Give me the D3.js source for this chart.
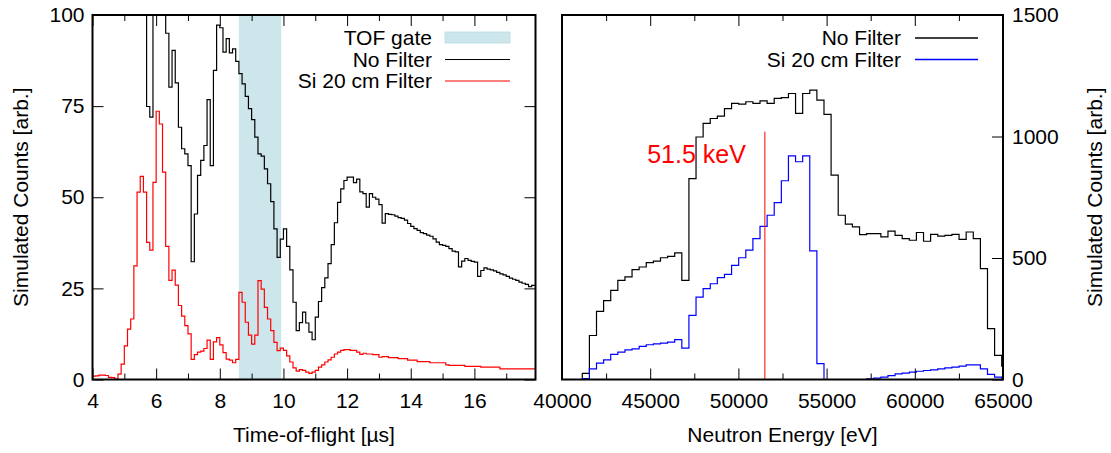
<!DOCTYPE html>
<html><head><meta charset="utf-8">
<script src="https://cdn.jsdelivr.net/npm/d3@7"></script>
<style>
body{margin:0;background:#fff}
text{font-family:"Liberation Sans",Arial,Helvetica,sans-serif;fill:#000}
</style></head><body>
<svg id="c" width="1111" height="453"></svg>
<script>
// ---------- data: left panel (time of flight) ----------
const tofBinWidth = 0.1;
const tofRedStart = 4.0;
const tofRedCounts = [
 0.9,1.0,1.2,1.2,1.1,0.6,0.5,0.1,1.5,4.2,
 9.2,13.8,16.6,31.2,51.4,55.7,51.4,37.6,35.5,54.1,
 73.6,70.1,56.9,36.5,27.2,30.0,25.9,20.3,17.4,14.8,
 12.5,5.5,6.8,7.5,7.8,8.5,10.8,5.5,10.3,11.5,
 9.5,7.4,5.6,5.3,4.6,5.5,23.9,21.2,15.7,12.2,
 9.7,12.2,27.1,24.8,19.8,16.6,13.4,10.2,7.9,8.6,
 8.0,6.5,4.8,3.2,2.3,2.7,2.5,2.0,1.7,2.0,
 2.5,3.4,4.0,4.8,5.4,6.1,7.0,7.5,8.0,8.2,
 8.2,8.0,8.0,7.5,6.9,7.2,7.0,7.0,6.8,6.8,
 6.1,6.3,6.3,6.0,6.0,6.0,5.7,5.7,5.7,5.3,
 5.3,5.3,4.9,4.9,4.9,4.9,4.6,4.6,4.6,4.6,
 4.6,4.0,3.9,3.9,3.9,3.9,3.9,3.6,3.6,3.6,
 3.6,3.6,3.4,3.4,3.4,3.4,3.4,3.4,2.9,2.9,
 2.9,2.9,2.9,2.9,2.9,2.9,2.9,2.9,2.9
];
const tofBlackStart = 5.6;
const tofBlackCounts = [
 130,74.9,72.0,130,150,140,115,95,80.2,90.3,
 81.4,69.2,63.3,61.9,58.7,32.3,45.4,56.0,60.1,64.2,
 76.8,58.7,84.8,97.2,96.5,89.8,93.5,89.6,90.7,87.3,
 83.9,81.1,77.7,74.3,71.3,66.5,61.9,61.3,57.8,53.7,
 48.8,41.3,33.5,38.5,41.3,36.5,30.1,21.2,13.4,15.6,
 18.5,15.5,13.0,10.9,17.1,21.4,25.2,27.9,31.8,37.0,
 43.0,48.6,52.3,54.6,55.5,55.5,54.0,55.0,51.5,51.0,
 47.3,51.0,50.0,49.5,48.0,42.9,45.5,45.3,45.2,44.8,
 44.4,44.2,43.7,42.8,42.0,41.4,40.9,40.3,40.0,39.6,
 39.3,38.6,37.7,37.0,36.8,36.5,35.9,35.2,35.0,30.9,
 32.5,33.2,32.7,32.4,32.2,28.3,29.9,30.6,30.3,30.1,
 29.8,29.4,29.0,28.7,28.3,27.8,27.5,27.2,26.7,26.4,
 26.1,25.5,25.8
];
const tofGate = [8.6, 9.93];
const tofDomain = [4, 17.92];
const tofTicksMajor = [4,6,8,10,12,14,16];
const tofTicksMinor = [5,7,9,11,13,15,17];
const countTicksLeft = [0,25,50,75,100];
const leftLegend = ["TOF gate","No Filter","Si 20 cm Filter"];

// ---------- data: right panel (neutron energy) ----------
const energyBinStart = 41150;
const energyBinWidth = 403;
const energyBlackCounts = [
 25,181,280,325,367,408,422,452,463,481,
 487,501,507,521,408,827,998,1054,1074,1084,
 1115,1136,1133,1143,1136,1147,1136,1157,1160,1177,
 1095,1177,1191,1150,1091,841,676,639,628,596,
 600,600,587,611,593,580,573,605,569,597,
 590,593,597,577,607,580,456,209,99,55
];
const energyBlueCounts = [
 4,44,67,81,103,113,122,126,136,143,
 147,150,154,164,129,264,339,374,394,419,
 433,470,501,532,580,630,676,728,818,920,
 896,920,529,65,0,0,0,0,0,0,
 3,6,10,16,23,26,30,34,37,40,
 44,48,51,55,60,60,44,21,10,6
];
const energyDomain = [40000, 65000];
const energyTicksMajor = [40000,45000,50000,55000,60000,65000];
const energyTicksMinor = [42500,47500,52500,57500,62500];
const countTicksRight = [0,500,1000,1500];
const markerEnergy = 51500;
const markerTop = 1020;
const markerLabel = "51.5 keV";
const rightLegend = ["No Filter","Si 20 cm Filter"];

// ---------- drawing ----------
const svg = d3.select("#c");
const pTop = 15, pBottom = 379.5;
const L = {x0: 92.5, x1: 535.5};
const R = {x0: 562, x1: 1003};
const FS = 21;

const xL = d3.scaleLinear().domain(tofDomain).range([L.x0, L.x1]);
const yL = d3.scaleLinear().domain([0,100]).range([pBottom, pTop]);
const xR = d3.scaleLinear().domain(energyDomain).range([R.x0, R.x1]);
const yR = d3.scaleLinear().domain([0,1500]).range([pBottom, pTop]);

const defs = svg.append("defs");
defs.append("clipPath").attr("id","clipL").append("rect")
  .attr("x",L.x0).attr("y",pTop).attr("width",L.x1-L.x0).attr("height",pBottom-pTop);
defs.append("clipPath").attr("id","clipR").append("rect")
  .attr("x",R.x0).attr("y",pTop).attr("width",R.x1-R.x0).attr("height",pBottom-pTop);

function stepPoints(start, width, counts, lead){
  const pts = [];
  if (lead) pts.push([start, 0]);
  counts.forEach((v,i)=>pts.push([start + i*width, v]));
  pts.push([start + counts.length*width, counts[counts.length-1]]);
  return pts;
}
function stepPath(x, y, pts){
  return d3.line().x(d=>x(d[0])).y(d=>y(d[1])).curve(d3.curveStepAfter)(pts);
}

// ----- left panel -----
const gL = svg.append("g");
const plotL = gL.append("g").attr("clip-path","url(#clipL)");
plotL.append("rect")
  .attr("x", xL(tofGate[0])).attr("y", pTop)
  .attr("width", xL(tofGate[1]) - xL(tofGate[0])).attr("height", pBottom-pTop)
  .attr("fill","#cde6ec");
plotL.append("path")
  .attr("d", stepPath(xL, yL, stepPoints(tofBlackStart, tofBinWidth, tofBlackCounts, false)))
  .attr("fill","none").attr("stroke","#000").attr("stroke-width",1.2);
plotL.append("path")
  .attr("d", stepPath(xL, yL, stepPoints(tofRedStart, tofBinWidth, tofRedCounts, false)))
  .attr("fill","none").attr("stroke","#ff0000").attr("stroke-width",1.2);

// ----- right panel -----
const gR = svg.append("g");
const plotR = gR.append("g").attr("clip-path","url(#clipR)");
plotR.append("path")
  .attr("d", stepPath(xR, yR, stepPoints(energyBinStart, energyBinWidth, energyBlackCounts, true)))
  .attr("fill","none").attr("stroke","#000").attr("stroke-width",1.2);
plotR.append("path")
  .attr("d", stepPath(xR, yR, stepPoints(energyBinStart, energyBinWidth, energyBlueCounts, true)))
  .attr("fill","none").attr("stroke","#0000ff").attr("stroke-width",1.2);
plotR.append("line")
  .attr("x1", xR(markerEnergy)).attr("x2", xR(markerEnergy))
  .attr("y1", yR(0)).attr("y2", yR(markerTop))
  .attr("stroke","#ff0000").attr("stroke-width",1);
gR.append("text").attr("x", xR(markerEnergy) - 19).attr("y", 163)
  .attr("text-anchor","end").style("font-size","25px").style("fill","#ff0000")
  .text(markerLabel);

// ----- axes helper -----
function styleAxis(g){
  g.select(".domain").remove();
  g.selectAll(".tick line").attr("stroke","#000").attr("stroke-width",1);
  g.selectAll(".tick text").style("font-size",FS+"px").attr("fill","#000")
   .style("font-family","'Liberation Sans',Arial,sans-serif");
}
const fmt = d3.format("d");
function addAxes(x, y, x0, x1, majX, minX, yTicks, ySide){
  svg.append("g").attr("transform",`translate(0,${pBottom})`)
    .call(d3.axisBottom(x).tickValues(majX).tickSize(-11).tickPadding(14).tickFormat(fmt))
    .call(styleAxis);
  svg.append("g").attr("transform",`translate(0,${pBottom})`)
    .call(d3.axisBottom(x).tickValues(minX).tickSize(-6).tickFormat(""))
    .call(styleAxis);
  svg.append("g").attr("transform",`translate(0,${pTop})`)
    .call(d3.axisTop(x).tickValues(majX).tickSize(-11).tickFormat(""))
    .call(styleAxis);
  svg.append("g").attr("transform",`translate(0,${pTop})`)
    .call(d3.axisTop(x).tickValues(minX).tickSize(-6).tickFormat(""))
    .call(styleAxis);
  if (ySide === "left"){
    svg.append("g").attr("transform",`translate(${x0},0)`)
      .call(d3.axisLeft(y).tickValues(yTicks).tickSize(-11).tickPadding(8).tickFormat(fmt))
      .call(styleAxis);
    svg.append("g").attr("transform",`translate(${x1},0)`)
      .call(d3.axisRight(y).tickValues(yTicks).tickSize(-11).tickFormat(""))
      .call(styleAxis);
  } else {
    svg.append("g").attr("transform",`translate(${x1},0)`)
      .call(d3.axisRight(y).tickValues(yTicks).tickSize(-11).tickPadding(9).tickFormat(fmt))
      .call(styleAxis);
  }
  svg.append("rect").attr("x",x0).attr("y",pTop).attr("width",x1-x0).attr("height",pBottom-pTop)
    .attr("fill","none").attr("stroke","#000").attr("stroke-width",2);
}
addAxes(xL, yL, L.x0, L.x1, tofTicksMajor, tofTicksMinor, countTicksLeft, "left");
addAxes(xR, yR, R.x0, R.x1, energyTicksMajor, energyTicksMinor, countTicksRight, "right");

// ----- axis titles -----
svg.append("text").attr("x",(L.x0+L.x1)/2).attr("y",442).attr("text-anchor","middle")
  .style("font-size",FS+"px").text("Time-of-flight [µs]");
svg.append("text").attr("x",(R.x0+R.x1)/2).attr("y",442).attr("text-anchor","middle")
  .style("font-size",FS+"px").text("Neutron Energy [eV]");
svg.append("text").attr("transform",`translate(28,${(pTop+pBottom)/2}) rotate(-90)`)
  .attr("text-anchor","middle").style("font-size",FS+"px").text("Simulated Counts [arb.]");
svg.append("text").attr("transform",`translate(1102,${(pTop+pBottom)/2}) rotate(-90)`)
  .attr("text-anchor","middle").style("font-size",FS+"px").text("Simulated Counts [arb.]");

// ----- legends -----
const legL = svg.append("g");
const legLy = [37.5, 59.5, 81];
leftLegend.forEach((t,i)=>{
  legL.append("text").attr("x",432).attr("y",legLy[i]).attr("dy","0.35em")
    .attr("text-anchor","end").style("font-size",FS+"px").text(t);
});
legL.append("rect").attr("x",445).attr("y",legLy[0]-5.5).attr("width",65).attr("height",11)
  .attr("fill","#cde6ec").attr("stroke","#b8dce6").attr("stroke-width",0.8);
legL.append("line").attr("x1",445).attr("x2",510).attr("y1",legLy[1]).attr("y2",legLy[1])
  .attr("stroke","#000").attr("stroke-width",1.2);
legL.append("line").attr("x1",445).attr("x2",510).attr("y1",legLy[2]).attr("y2",legLy[2])
  .attr("stroke","#ff0000").attr("stroke-width",1.2);

const legR = svg.append("g");
const legRy = [38, 59.5];
const legRc = ["#000000","#0000ff"];
rightLegend.forEach((t,i)=>{
  legR.append("text").attr("x",901).attr("y",legRy[i]).attr("dy","0.35em")
    .attr("text-anchor","end").style("font-size",FS+"px").text(t);
  legR.append("line").attr("x1",915).attr("x2",978).attr("y1",legRy[i]).attr("y2",legRy[i])
    .style("stroke",legRc[i]).attr("stroke-width",1.3);
});
</script>
</body></html>
